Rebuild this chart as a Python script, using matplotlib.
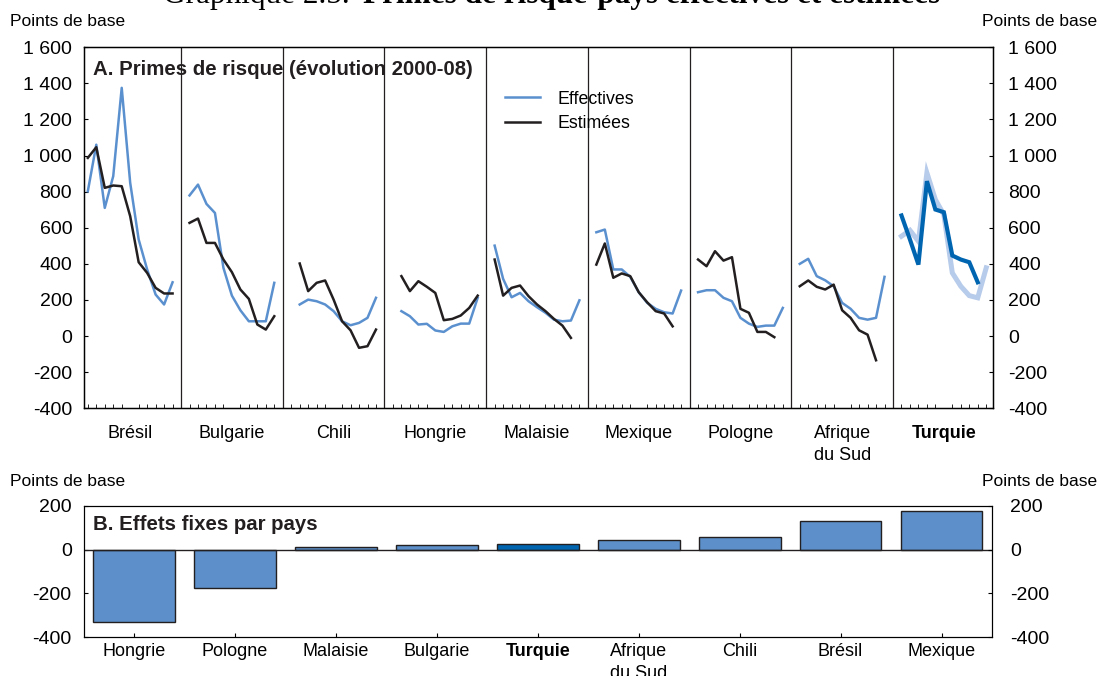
import numpy as np
import matplotlib
matplotlib.use("Agg")
import matplotlib.pyplot as plt
from matplotlib.ticker import FuncFormatter

plt.rcParams["font.family"] = ["Liberation Sans", "DejaVu Sans"]

nan = np.nan
countries = ["Brésil", "Bulgarie", "Chili", "Hongrie", "Malaisie", "Mexique",
             "Pologne", "Afrique\ndu Sud", "Turquie"]

# primes de risque, effectives / estimées (points de base), 11 obs. par pays
bresil_eff = [802, 1060, 710, 886, 1375, 849, 535, 369, 230, 175, 298]
bresil_est = [987, 1046, 821, 834, 830, 664, 409, 350, 267, 236, 236]
bulgarie_eff = [779, 839, 732, 682, 378, 224, 143, 82, 82, 82, 295]
bulgarie_est = [627, 651, 516, 516, 424, 354, 258, 206, 64, 36, 110]
chili_eff = [nan, 175, 202, 193, 175, 138, 82, 60, 73, 101, 212]
chili_est = [nan, 402, 249, 295, 308, 202, 82, 32, -65, -56, 36]
hongrie_eff = [nan, 138, 110, 64, 68, 31, 23, 54, 69, 69, 212]
hongrie_est = [nan, 332, 249, 304, 273, 239, 88, 95, 114, 156, 224]
malaisie_eff = [501, 317, 215, 239, 193, 160, 129, 91, 82, 86, 198]
malaisie_est = [424, 224, 267, 280, 221, 175, 138, 95, 58, -10, nan]
mexique_eff = [575, 590, 369, 369, 328, 243, 184, 151, 132, 125, 252]
mexique_est = [396, 513, 323, 347, 332, 243, 187, 138, 125, 54, nan]
pologne_eff = [243, 254, 254, 212, 193, 101, 69, 51, 58, 58, 156]
pologne_est = [424, 387, 470, 418, 437, 151, 129, 23, 23, -6, nan]
afsud_eff = [400, 428, 332, 309, 276, 184, 151, 101, 91, 101, 328]
afsud_est = [276, 308, 273, 258, 285, 143, 101, 32, 8, -134, nan]
turquie_eff = [553, 586, 525, 904, 756, 673, 350, 276, 224, 212, 378]
turquie_est = [668, 535, 396, 858, 701, 686, 446, 424, 409, 298, nan]

effectives = [bresil_eff, bulgarie_eff, chili_eff, hongrie_eff, malaisie_eff,
              mexique_eff, pologne_eff, afsud_eff, turquie_eff]
estimees = [bresil_est, bulgarie_est, chili_est, hongrie_est, malaisie_est,
            mexique_est, pologne_est, afsud_est, turquie_est]

# effets fixes par pays (points de base)
fe_countries = ["Hongrie", "Pologne", "Malaisie", "Bulgarie", "Turquie",
                "Afrique\ndu Sud", "Chili", "Brésil", "Mexique"]
fe_values = [-330, -176, 10, 20, 28, 45, 60, 130, 176]

BLUE = "#5b90cf"
BLACK = "#231f20"
TR_DARK = "#0065b0"
TR_LIGHT = "#b7cbea"
BAR = "#5d8fca"

W, H = 1098, 676
fig = plt.figure(figsize=(W / 100, H / 100), dpi=100)


def fmt(v, pos):
    return f"{v:,.0f}".replace(",", " ")


# --- title (top clipped)
fig.text(163 / W, 1 - 3.5 / H, "Graphique 2.5. ", family="Liberation Serif",
         fontsize=22.5, va="baseline", ha="left")
fig.text(363 / W, 1 - 3.5 / H, "Primes de risque-pays effectives et estimées",
         family="Liberation Serif", fontsize=22.5, fontweight="bold",
         va="baseline", ha="left")

# --- panel A
axA = fig.add_axes([84 / W, 1 - 408.3 / H, 909 / W, 361.1 / H])
slot = 12
for k, (eff, est) in enumerate(zip(effectives, estimees)):
    x = np.arange(11) + slot * k
    if countries[k] == "Turquie":
        axA.plot(x, eff, color=TR_LIGHT, lw=3.6, solid_joinstyle="miter")
        axA.plot(x, est, color=TR_DARK, lw=3.0, solid_joinstyle="miter")
    else:
        axA.plot(x, eff, color=BLUE, lw=1.8, label="Effectives" if k == 0 else None)
        axA.plot(x, est, color=BLACK, lw=1.8, label="Estimées" if k == 0 else None)
for k in range(1, 9):
    axA.axvline(slot * k - 1, color=BLACK, lw=0.9)

axA.set_xlim(-0.45, 106.8)
axA.set_ylim(-400, 1600)
axA.set_yticks(np.arange(-400, 1601, 200))
axA.yaxis.set_major_formatter(FuncFormatter(fmt))
axA.tick_params(axis="y", direction="in", length=3, labelsize=14, pad=8.5,
                left=True, right=False)
axA.set_xticks([slot * k + 5 for k in range(9)])
axA.set_xticklabels(countries, fontsize=13)
axA.set_xticks([slot * k + i for k in range(9) for i in range(11)], minor=True)
axA.tick_params(axis="x", which="major", length=0, pad=12)
axA.tick_params(axis="x", which="minor", direction="in", length=3, width=0.6)
axA.get_xticklabels()[-1].set_fontweight("bold")
for lab in axA.get_xticklabels():
    lab.set_linespacing(1.4)
for s in axA.spines.values():
    s.set_linewidth(1.0)
axA2 = axA.twinx()
axA2.set_ylim(axA.get_ylim())
axA2.set_yticks(axA.get_yticks())
axA2.yaxis.set_major_formatter(FuncFormatter(fmt))
axA2.tick_params(axis="y", direction="in", length=3, labelsize=14, pad=11)

axA.text(0.01, 0.937, "A. Primes de risque (évolution 2000-08)", transform=axA.transAxes,
         fontsize=14.7, fontweight="bold", va="center", ha="left", color=BLACK)
axA.legend(loc="upper left", bbox_to_anchor=(0.463, 0.88), frameon=False,
           fontsize=12.8, handlelength=2.0, handletextpad=0.95, labelspacing=0.42,
           borderaxespad=0, borderpad=0)

fig.text(10 / W, 1 - 22 / H, "Points de base", fontsize=12.5, va="center", ha="left")
fig.text(1097 / W, 1 - 22 / H, "Points de base", fontsize=12.5, va="center", ha="right")

# --- panel B
axB = fig.add_axes([83.5 / W, 1 - 637 / H, 908.5 / W, 131 / H])
xb = np.arange(len(fe_countries))
colors = [TR_DARK if c == "Turquie" else BAR for c in fe_countries]
axB.bar(xb, fe_values, width=0.81, color=colors, edgecolor=BLACK, linewidth=1.0, zorder=2)
axB.axhline(0, color=BLACK, lw=1.0, zorder=3)
axB.set_xlim(-0.5, 8.5)
axB.set_ylim(-400, 200)
axB.set_yticks([-400, -200, 0, 200])
axB.yaxis.set_major_formatter(FuncFormatter(fmt))
axB.tick_params(axis="y", direction="in", length=3, labelsize=14, pad=8.5)
axB.set_xticks(xb)
axB.set_xticklabels(fe_countries, fontsize=13)
axB.tick_params(axis="x", direction="in", length=3, pad=4.5)
axB.get_xticklabels()[fe_countries.index("Turquie")].set_fontweight("bold")
for lab in axB.get_xticklabels():
    lab.set_linespacing(1.4)
axB2 = axB.twinx()
axB2.set_ylim(axB.get_ylim())
axB2.set_yticks(axB.get_yticks())
axB2.yaxis.set_major_formatter(FuncFormatter(fmt))
axB2.tick_params(axis="y", direction="in", length=3, labelsize=14, pad=13)

axB.text(0.01, 0.855, "B. Effets fixes par pays", transform=axB.transAxes,
         fontsize=14.7, fontweight="bold", va="center", ha="left", color=BLACK)

fig.text(10 / W, 1 - 481 / H, "Points de base", fontsize=12.5, va="center", ha="left")
fig.text(1097 / W, 1 - 481 / H, "Points de base", fontsize=12.5, va="center", ha="right")

fig.savefig("out.png", dpi=100)
